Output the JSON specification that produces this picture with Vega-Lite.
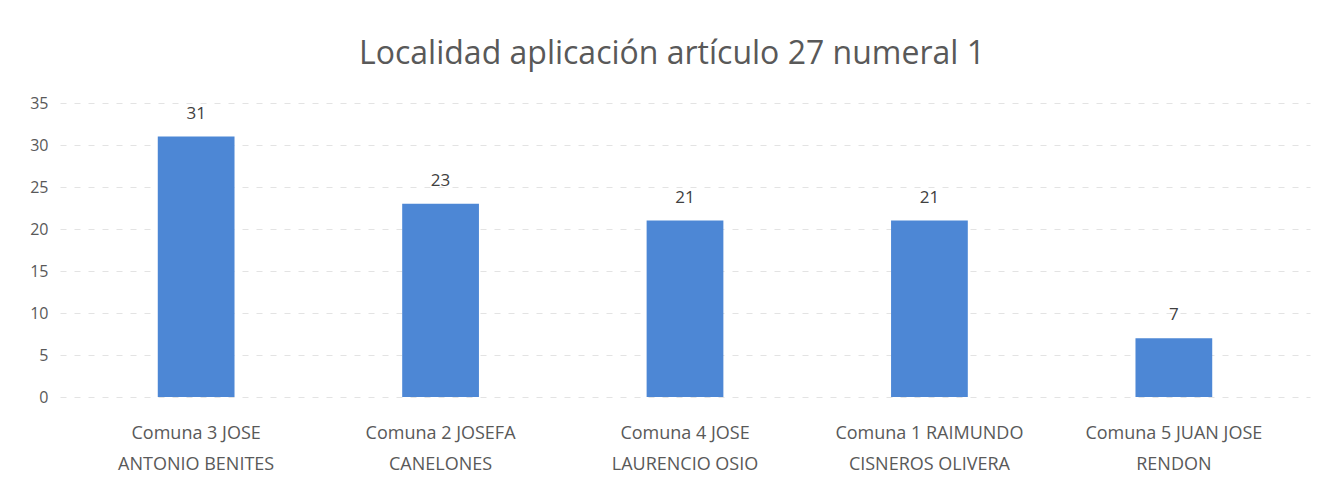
{
  "$schema": "https://vega.github.io/schema/vega-lite/v6.json",
  "width": 1250,
  "height": 294,
  "autosize": {"type": "none"},
  "padding": {"left": 60, "top": 103, "right": 9, "bottom": 98},
  "background": "white",
  "title": {
    "text": "Localidad aplicación artículo 27 numeral 1",
    "fontSize": 32,
    "font": "Open Sans",
    "fontWeight": "normal",
    "color": "#595959",
    "anchor": "middle",
    "offset": 24,
    "dx": -13
  },
  "data": {
    "values": [
      {"comuna": "Comuna 3 JOSE\nANTONIO BENITES", "valor": 31},
      {"comuna": "Comuna 2 JOSEFA\nCANELONES", "valor": 23},
      {"comuna": "Comuna 4 JOSE\nLAURENCIO OSIO", "valor": 21},
      {"comuna": "Comuna 1 RAIMUNDO\nCISNEROS OLIVERA", "valor": 21},
      {"comuna": "Comuna 5 JUAN JOSE\nRENDON", "valor": 7}
    ]
  },
  "encoding": {
    "x": {
      "field": "comuna",
      "type": "nominal",
      "sort": null,
      "scale": {"paddingInner": 0.686, "paddingOuter": 0.4},
      "axis": {
        "title": null,
        "labelAngle": 0,
        "labelExpr": "split(datum.label, '\\n')",
        "labelFont": "Open Sans",
        "labelFontSize": 18,
        "labelColor": "#595959",
        "labelLineHeight": 31,
        "labelPadding": 27,
        "labelBaseline": "top",
        "labelLimit": 250,
        "domain": false,
        "ticks": false,
        "grid": false
      }
    },
    "y": {
      "field": "valor",
      "type": "quantitative",
      "scale": {"domain": [0, 35], "nice": false},
      "axis": {
        "title": null,
        "values": [0, 5, 10, 15, 20, 25, 30, 35],
        "labelFont": "Open Sans",
        "labelFontSize": 16,
        "labelColor": "#595959",
        "labelPadding": 12,
        "domain": false,
        "ticks": false,
        "grid": true,
        "gridColor": "#e3e3e3",
        "gridDash": [6, 8],
        "gridWidth": 1
      }
    }
  },
  "layer": [
    {"mark": {"type": "bar", "color": "#4d87d5"}},
    {
      "mark": {
        "type": "text",
        "baseline": "bottom",
        "dy": -14,
        "font": "Open Sans",
        "fontSize": 17,
        "color": "#404040"
      },
      "encoding": {"text": {"field": "valor", "type": "quantitative"}}
    }
  ],
  "config": {"view": {"stroke": null}}
}
